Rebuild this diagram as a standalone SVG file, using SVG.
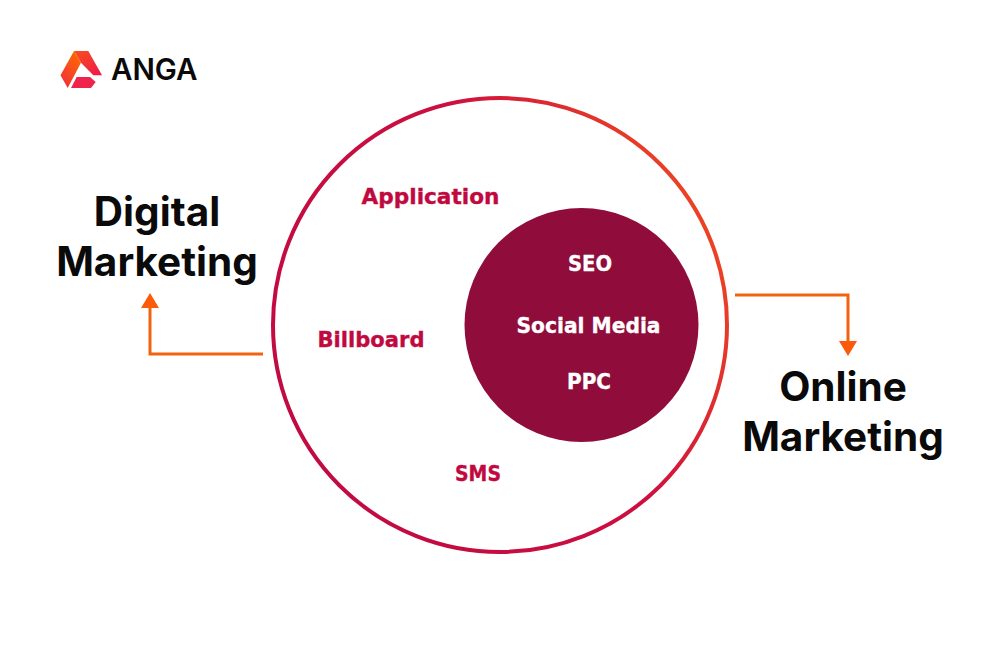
<svg xmlns="http://www.w3.org/2000/svg" width="1000" height="650" viewBox="0 0 1000 650">
<style>
.t{font-family:Inter,"Liberation Sans",sans-serif;font-weight:700;font-size:40.5px;fill:#0a0a0a;text-anchor:middle}
.l{font-family:"DejaVu Sans","Noto Sans",sans-serif;font-weight:700;font-size:21.5px;text-anchor:middle;stroke-width:.35;paint-order:stroke}
.r{fill:#c0093f;stroke:#c0093f}
.w{fill:#fff;stroke:#fff}
.c{fill:none;stroke:#f2620f;stroke-width:3}
</style>
<defs>
<linearGradient id="ring" gradientUnits="userSpaceOnUse" x1="272" y1="440" x2="728" y2="210"><stop offset="0" stop-color="#c00a42"/><stop offset="0.6" stop-color="#cc0f40"/><stop offset="1" stop-color="#f04a20"/></linearGradient>
<linearGradient id="lg1" x1="0.8" y1="0" x2="0.2" y2="1"><stop offset="0" stop-color="#ff6a00"/><stop offset="1" stop-color="#f0303a"/></linearGradient>
<linearGradient id="lg2" x1="0" y1="0" x2="0.8" y2="1"><stop offset="0" stop-color="#f9501c"/><stop offset="1" stop-color="#ee1c48"/></linearGradient>
<marker id="a" markerUnits="userSpaceOnUse" markerWidth="18" markerHeight="18" refX="11" refY="9" orient="auto"><path d="M0 0L15 9L0 18Z" fill="#fb5a08"/></marker>
</defs>
<rect width="1000" height="650" fill="#fff"/>
<g id="logo">
<path d="M74 51H88.3L102 75.3H93.3L81 62.7Z" fill="url(#lg2)"/>
<path d="M74 51L60.5 75.3L67.7 88L81 62.7Z" fill="url(#lg1)"/>
<path d="M76.7 77H90L95.7 82L91 88H71Z" fill="#f0234a"/>
<text x="111" y="80" font-family="Inter,'Liberation Sans',sans-serif" font-weight="600" font-size="29.5" fill="#0a0a0a">ANGA</text>
</g>
<g id="outer"><circle cx="500" cy="325" r="227" fill="#fff" stroke="url(#ring)" stroke-width="4"/></g>
<g id="inner"><circle cx="581.5" cy="325" r="117" fill="#8f0c3b"/></g>
<g id="digital"><text class="t" x="157" y="226">Digital</text><text class="t" x="157" y="276">Marketing</text></g>
<g id="online"><text class="t" x="843" y="401">Online</text><text class="t" x="843" y="451">Marketing</text></g>
<g id="labels">
<text class="l r" x="430.5" y="204" textLength="138" lengthAdjust="spacingAndGlyphs">Application</text>
<text class="l r" x="371" y="347" textLength="107" lengthAdjust="spacingAndGlyphs">Billboard</text>
<text class="l r" x="478" y="481" textLength="46" lengthAdjust="spacingAndGlyphs">SMS</text>
<text class="l w" x="590" y="271" textLength="44" lengthAdjust="spacingAndGlyphs">SEO</text>
<text class="l w" x="588.5" y="333" textLength="144" lengthAdjust="spacingAndGlyphs">Social Media</text>
<text class="l w" x="589" y="389" textLength="44" lengthAdjust="spacingAndGlyphs">PPC</text>
</g>
<g id="connectors">
<path class="c" d="M263 354H150V297" marker-end="url(#a)"/>
<path class="c" d="M735 295H848V352" marker-end="url(#a)"/>
</g>
</svg>
